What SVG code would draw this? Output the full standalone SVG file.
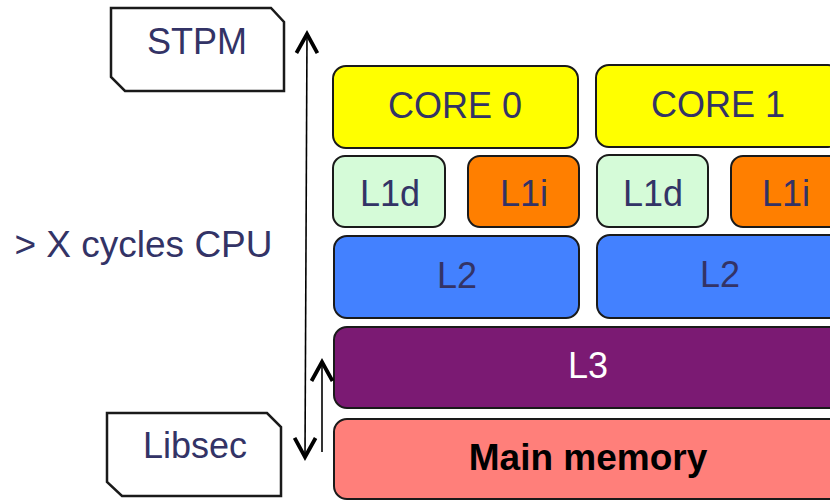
<svg xmlns="http://www.w3.org/2000/svg" width="830" height="500" viewBox="0 0 830 500">
  <style>
    .lbl { font-family: "Liberation Sans", Arial, sans-serif; font-size: 36px; fill: #333366; text-anchor: middle; }
    .box { stroke: #1a1a1a; stroke-width: 2; }
    .tag { fill: #ffffff; stroke: #1a1a1a; stroke-width: 2.5; }
    .conn { stroke: #000; stroke-width: 1.6; fill: none; }
  </style>
  <defs>
    <marker id="chev" markerUnits="userSpaceOnUse" markerWidth="30" markerHeight="30" refX="0" refY="0" orient="auto-start-reverse" overflow="visible">
      <path d="M -19 -10.5 L 0 0 L -19 10.5" fill="none" stroke="#000" stroke-width="3.8" stroke-linejoin="miter"/>
    </marker>
  </defs>

  <rect width="830" height="500" fill="#ffffff"/>

  <!-- side labels -->
  <g id="stpm">
    <path class="tag" d="M111 8 H271 L284 22 V91 H125 L111 77 Z"/>
    <text class="lbl" x="197" y="54">STPM</text>
  </g>
  <g id="libsec">
    <path class="tag" d="M107 413 H267 L281 427 V496 H122 L107 482 Z"/>
    <text class="lbl" x="195" y="458">Libsec</text>
  </g>
  <g id="cycles">
    <text class="lbl" x="143.5" y="257" style="font-size:37px">&gt; X cycles CPU</text>
  </g>

  <!-- core 0 -->
  <g id="core0">
    <rect class="box" x="333" y="66" width="245" height="82" rx="13" fill="#ffff00"/>
    <text class="lbl" x="455" y="118">CORE 0</text>
  </g>
  <g id="l1d0">
    <rect class="box" x="333" y="156" width="112" height="71" rx="12" fill="#d5fbd8"/>
    <text class="lbl" x="390" y="206">L1d</text>
  </g>
  <g id="l1i0">
    <rect class="box" x="468" y="156" width="111" height="71" rx="12" fill="#ff7f00"/>
    <text class="lbl" x="524" y="206">L1i</text>
  </g>
  <g id="l2_0">
    <rect class="box" x="334" y="236" width="245" height="82" rx="13" fill="#4381ff"/>
    <text class="lbl" x="457" y="288">L2</text>
  </g>

  <!-- core 1 -->
  <g id="core1">
    <rect class="box" x="596" y="65" width="245" height="82" rx="13" fill="#ffff00"/>
    <text class="lbl" x="718" y="117">CORE 1</text>
  </g>
  <g id="l1d1">
    <rect class="box" x="597" y="155" width="111" height="72" rx="12" fill="#d5fbd8"/>
    <text class="lbl" x="653" y="206">L1d</text>
  </g>
  <g id="l1i1">
    <rect class="box" x="731" y="156" width="111" height="71" rx="12" fill="#ff7f00"/>
    <text class="lbl" x="786" y="206">L1i</text>
  </g>
  <g id="l2_1">
    <rect class="box" x="597" y="235" width="245" height="83" rx="13" fill="#4381ff"/>
    <text class="lbl" x="720" y="287">L2</text>
  </g>

  <!-- shared levels -->
  <g id="l3">
    <rect class="box" x="334" y="327" width="510" height="81" rx="13" fill="#7b1a73"/>
    <text class="lbl" x="588" y="378" style="fill:#ffffff">L3</text>
  </g>
  <g id="mainmem">
    <rect class="box" x="334" y="419" width="510" height="80" rx="13" fill="#ff7f7a"/>
    <text x="588" y="470" font-family="Liberation Sans, Arial, sans-serif" font-size="37" font-weight="bold" fill="#000" text-anchor="middle">Main memory</text>
  </g>

  <!-- latency arrows -->
  <g id="connectors">
    <line class="conn" x1="307" y1="34" x2="305" y2="457" marker-start="url(#chev)" marker-end="url(#chev)"/>
    <line class="conn" x1="322" y1="452" x2="322" y2="362" marker-end="url(#chev)"/>
  </g>
</svg>
